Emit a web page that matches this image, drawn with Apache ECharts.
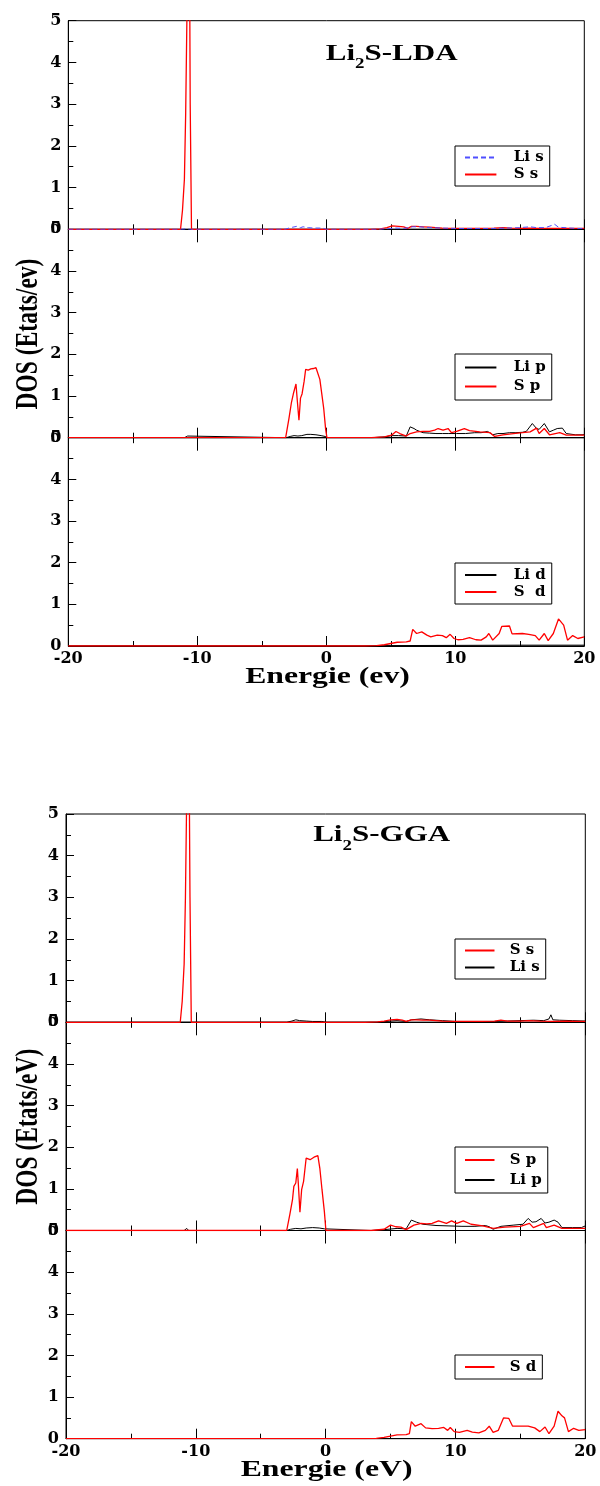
<!DOCTYPE html>
<html><head><meta charset="utf-8">
<script src="https://cdn.jsdelivr.net/npm/echarts/dist/echarts.min.js"></script>
<style>html,body{margin:0;padding:0;background:#fff}#c{width:600px;height:1486px}</style>
</head><body><div id="c"></div>
<script>
// ---------- DATA (energy in eV, DOS in states/eV) ----------
const xTickValues = [-20, -10, 0, 10, 20];
const yTickValues = [0, 1, 2, 3, 4, 5];

const ldaSs = [[-20,0],[-11.3,0],[-11.15,0.45],[-11.0,1.2],[-10.9,2.8],[-10.8,5.2],[-10.7,8.0],[-10.6,6.5],[-10.55,3.0],[-10.45,0],[-4,0],[3.4,0],[4.2,0.01],[4.7,0.04],[5.1,0.08],[5.6,0.07],[6.0,0.06],[6.3,0.02],[6.6,0.07],[7.0,0.07],[7.5,0.06],[8.0,0.05],[8.5,0.04],[9.0,0.03],[10.0,0.02],[11.0,0.02],[12.0,0.02],[13.0,0.03],[13.7,0.04],[14.3,0.03],[15.0,0.02],[15.7,0.03],[16.5,0.02],[17.5,0.02],[18.5,0.02],[19.5,0.02],[20,0.02]];
const ldaLis = [[-20,0],[-11.2,0],[-10.9,0.01],[-10.6,0],[-3.2,0],[-2.9,0.03],[-2.6,0.05],[-2.3,0.07],[-2.0,0.04],[-1.8,0.06],[-1.4,0.04],[-1.0,0.03],[-0.5,0.03],[-0.2,0.02],[0,0],[4,0],[5,0.02],[5.4,0.03],[6,0.02],[6.7,0.06],[7.2,0.06],[8,0.04],[9,0.03],[10,0.02],[11,0.02],[12,0.02],[13,0.02],[14,0.03],[15,0.04],[15.8,0.06],[16.3,0.04],[17,0.04],[17.7,0.12],[18.0,0.05],[18.9,0.03],[19.5,0.02],[20,0.02]];
const ldaSp = [[-20,0],[-3.15,0],[-2.9,0.45],[-2.7,0.85],[-2.55,1.06],[-2.45,1.05],[-2.35,1.29],[-2.25,0.9],[-2.12,0.42],[-2.0,0.95],[-1.88,1.05],[-1.72,1.35],[-1.6,1.64],[-1.4,1.62],[-1.2,1.65],[-1.0,1.66],[-0.8,1.68],[-0.65,1.70],[-0.5,1.4],[-0.35,1.05],[-0.2,0.7],[-0.05,0.2],[0.05,0],[3.5,0],[4.5,0.02],[5.06,0.06],[5.4,0.15],[5.7,0.1],[6.2,0.04],[6.5,0.1],[7.0,0.14],[7.5,0.15],[8.0,0.15],[8.4,0.18],[8.67,0.22],[9.05,0.18],[9.44,0.22],[9.7,0.12],[10.1,0.15],[10.7,0.22],[11.1,0.17],[11.9,0.14],[12.7,0.12],[13.05,0.03],[13.7,0.07],[14.5,0.1],[15.2,0.12],[15.8,0.14],[16.3,0.23],[16.5,0.1],[16.9,0.22],[17.3,0.07],[18.1,0.12],[18.6,0.06],[19.9,0.06],[20,0.06]];
const ldaLip = [[-20,0],[-11,0],[-10.75,0.04],[-10.6,0],[-3.1,0],[-2.8,0.03],[-2.5,0.05],[-2.2,0.04],[-1.9,0.05],[-1.5,0.08],[-1.2,0.08],[-0.8,0.07],[-0.4,0.05],[-0.1,0.03],[0.1,0],[3.5,0],[4.5,0.02],[5.06,0.05],[5.6,0.05],[6.2,0.04],[6.5,0.26],[6.8,0.22],[7.0,0.18],[7.5,0.12],[8.0,0.11],[8.5,0.1],[9.0,0.1],[9.5,0.1],[10.1,0.1],[10.8,0.1],[11.5,0.12],[12.0,0.12],[12.5,0.15],[12.9,0.07],[13.3,0.1],[13.7,0.1],[14.2,0.12],[14.7,0.12],[15.2,0.13],[15.5,0.15],[15.97,0.34],[16.3,0.22],[16.5,0.2],[16.9,0.34],[17.3,0.14],[17.6,0.18],[17.9,0.22],[18.3,0.23],[18.6,0.1],[19.3,0.07],[19.9,0.07],[20,0.08]];
const ldaSd = [[-20,0],[-13,0],[3.0,0],[3.9,0.01],[4.5,0.03],[5.0,0.06],[5.5,0.09],[6.2,0.1],[6.5,0.12],[6.7,0.4],[7.0,0.3],[7.4,0.34],[7.8,0.26],[8.1,0.22],[8.6,0.26],[9.0,0.25],[9.3,0.2],[9.6,0.28],[9.9,0.18],[10.2,0.15],[10.6,0.16],[11.1,0.2],[11.6,0.15],[12.0,0.14],[12.4,0.22],[12.6,0.3],[12.9,0.14],[13.4,0.3],[13.6,0.47],[14.2,0.48],[14.4,0.29],[15.2,0.3],[15.7,0.28],[16.2,0.25],[16.5,0.14],[16.9,0.3],[17.2,0.13],[17.6,0.3],[18.0,0.65],[18.4,0.5],[18.7,0.14],[19.1,0.25],[19.5,0.18],[20,0.22]];
const ldaLid = [[-20,0],[3,0],[5,0.01],[10,0.015],[15,0.02],[20,0.02]];

const ggaSs = [[-20,0],[-11.2,0],[-11.05,0.5],[-10.9,1.4],[-10.8,3],[-10.7,5.5],[-10.6,8],[-10.5,5.5],[-10.45,3],[-10.35,0],[3.0,0],[4,0.01],[4.5,0.03],[5.0,0.06],[5.5,0.07],[5.9,0.05],[6.2,0.02],[6.6,0.06],[7.0,0.06],[7.5,0.05],[8.0,0.05],[8.5,0.04],[9,0.03],[10,0.02],[11,0.02],[12,0.02],[13,0.03],[13.5,0.05],[14,0.03],[15,0.03],[15.6,0.04],[16.5,0.03],[17.5,0.02],[18.5,0.03],[19.5,0.02],[20,0.02]];
const ggaLis = [[-20,0],[-3,0],[-2.6,0.03],[-2.3,0.06],[-2.0,0.04],[-1.5,0.03],[-1.0,0.02],[-0.3,0.02],[0,0],[4,0],[5,0.03],[5.5,0.04],[6.2,0.02],[6.6,0.06],[7.35,0.08],[8,0.06],[9,0.04],[10,0.02],[11,0.02],[12,0.02],[13,0.02],[14,0.03],[15,0.04],[16,0.05],[16.8,0.04],[17.2,0.08],[17.35,0.18],[17.5,0.06],[18,0.05],[19,0.04],[20,0.03]];
const ggaSp = [[-20,0],[-3.0,0],[-2.75,0.4],[-2.55,0.75],[-2.45,1.06],[-2.3,1.14],[-2.18,1.49],[-2.1,1.1],[-1.98,0.44],[-1.85,0.98],[-1.7,1.18],[-1.5,1.74],[-1.35,1.72],[-1.2,1.70],[-0.9,1.76],[-0.6,1.80],[-0.45,1.5],[-0.28,0.98],[-0.1,0.46],[0.02,0],[3.5,0],[4.5,0.03],[5.0,0.13],[5.4,0.09],[5.8,0.08],[6.2,0.02],[6.8,0.13],[7.35,0.17],[7.8,0.16],[8.2,0.17],[8.7,0.23],[9.3,0.17],[9.7,0.23],[10.1,0.17],[10.6,0.23],[11.2,0.15],[12.1,0.11],[12.9,0.05],[13.8,0.08],[15.0,0.1],[15.7,0.17],[16.0,0.07],[16.8,0.17],[17.0,0.07],[17.6,0.13],[18.2,0.05],[19,0.05],[20,0.05]];
const ggaLip = [[-20,0],[-10.9,0],[-10.7,0.05],[-10.55,0],[-3.0,0],[-2.7,0.03],[-2.3,0.05],[-1.9,0.04],[-1.5,0.06],[-1.0,0.07],[-0.5,0.06],[-0.1,0.04],[0.05,0],[3.5,0],[4.5,0.02],[5.5,0.05],[6.2,0.04],[6.6,0.25],[7.0,0.2],[7.5,0.15],[8.5,0.12],[9.5,0.11],[10.5,0.1],[11.5,0.1],[12.3,0.12],[12.6,0.09],[12.9,0.03],[13.5,0.1],[14.5,0.13],[15.2,0.15],[15.6,0.29],[15.9,0.2],[16.2,0.21],[16.6,0.29],[16.9,0.18],[17.2,0.2],[17.6,0.25],[17.9,0.2],[18.2,0.07],[19,0.07],[19.7,0.07],[20,0.11]];
const ggaSd = [[-20,0],[-13,0],[3.0,0],[3.9,0.01],[4.5,0.03],[5.0,0.06],[5.5,0.09],[6.2,0.1],[6.45,0.12],[6.6,0.41],[6.9,0.3],[7.35,0.36],[7.7,0.26],[8.2,0.24],[8.7,0.25],[9.1,0.27],[9.4,0.2],[9.6,0.27],[9.9,0.17],[10.3,0.15],[10.9,0.2],[11.3,0.16],[11.8,0.14],[12.3,0.2],[12.6,0.3],[12.9,0.15],[13.3,0.2],[13.7,0.5],[14.1,0.49],[14.4,0.3],[15.0,0.3],[15.6,0.3],[16.1,0.26],[16.5,0.17],[16.9,0.28],[17.2,0.12],[17.6,0.3],[17.9,0.66],[18.2,0.55],[18.4,0.5],[18.7,0.17],[19.1,0.25],[19.5,0.2],[20,0.22]];

// ---------- LAYOUT / STYLE ----------
const RED = '#ff0000', BLK = '#000000', BLUE = '#4f4fff';
const TICK_FONT = {fontFamily: 'DejaVu Serif', fontWeight: 'bold', fontSize: 16, color: '#000'};
const grids = [
  {left: 68.3, top: 20.7, width: 516, height: 208.6},
  {left: 68.3, top: 229.3, width: 516, height: 208.4},
  {left: 68.3, top: 437.7, width: 516, height: 208.3},
  {left: 66, top: 814, width: 519.3, height: 208.3},
  {left: 66, top: 1022.3, width: 519.3, height: 208.2},
  {left: 66, top: 1230.5, width: 519.3, height: 208.2}
];
const seriesDefs = [
  {id: 'lda-ss', g: 0, label: 'S s', data: ldaSs, color: RED},
  {id: 'lda-lis', g: 0, label: 'Li s', data: ldaLis, color: BLUE, dash: true},
  {id: 'lda-lip', g: 1, label: 'Li p', data: ldaLip, color: BLK},
  {id: 'lda-sp', g: 1, label: 'S p', data: ldaSp, color: RED},
  {id: 'lda-lid', g: 2, label: 'Li d', data: ldaLid, color: BLK},
  {id: 'lda-sd', g: 2, label: 'S  d', data: ldaSd, color: RED},
  {id: 'gga-lis', g: 3, label: 'Li s', data: ggaLis, color: BLK},
  {id: 'gga-ss', g: 3, label: 'S s', data: ggaSs, color: RED},
  {id: 'gga-lip', g: 4, label: 'Li p', data: ggaLip, color: BLK},
  {id: 'gga-sp', g: 4, label: 'S p', data: ggaSp, color: RED},
  {id: 'gga-sd', g: 5, label: 'S d', data: ggaSd, color: RED}
];
const labelOf = {};
seriesDefs.forEach(s => labelOf[s.id] = s.label);
const legendDefs = [
  {items: ['lda-lis', 'lda-ss'], left: 455, top: 146, pad: [4, 6, 4, 9], gap: 2, iw: 31.4, tp: 12.4, tw: 39},
  {items: ['lda-lip', 'lda-sp'], left: 455, top: 354, pad: [6, 6, 6, 9], gap: 4, iw: 31.4, tp: 12.4, tw: 41},
  {items: ['lda-lid', 'lda-sd'], left: 455, top: 563, pad: [4.5, 6, 4.5, 9], gap: 2, iw: 31.4, tp: 12.4, tw: 41},
  {items: ['gga-ss', 'gga-lis'], left: 455, top: 939, pad: [4, 6, 4, 9], gap: 2, iw: 29.5, tp: 10.3, tw: 37},
  {items: ['gga-sp', 'gga-lip'], left: 455, top: 1147, pad: [5.5, 6, 5.5, 9], gap: 5, iw: 29.5, tp: 10.3, tw: 39},
  {items: ['gga-sd'], left: 455, top: 1355, pad: [4.5, 6, 4.5, 9], gap: 2, iw: 29.5, tp: 10.3, tw: 33}
];

const xAxes = [], yAxes = [], series = [];
const bottomIdx = [];
grids.forEach((g, i) => {
  const lastOfFig = (i === 2 || i === 5);
  bottomIdx[i] = xAxes.length;
  xAxes.push({
    type: 'value', gridIndex: i, position: 'bottom', min: xTickValues[0], max: xTickValues[xTickValues.length - 1], interval: 10,
    axisLine: {show: true, onZero: false, lineStyle: {color: '#000', width: 1}},
    axisTick: {show: true, inside: true, length: 10, lineStyle: {color: '#000'}},
    minorTick: {show: true, splitNumber: 2, length: 5, lineStyle: {color: '#000'}},
    splitLine: {show: false}, minorSplitLine: {show: false},
    axisLabel: Object.assign({show: lastOfFig, margin: 5}, TICK_FONT)
  });
  if (i !== 0 && i !== 3) {
    xAxes.push({
      type: 'value', gridIndex: i, position: 'top', min: xTickValues[0], max: xTickValues[xTickValues.length - 1], interval: 10,
      axisLine: {show: true, onZero: false, lineStyle: {color: '#000', width: 1}},
      axisTick: {show: true, inside: true, length: 13, lineStyle: {color: '#000'}},
      minorTick: {show: true, splitNumber: 2, length: 5.5, lineStyle: {color: '#000'}},
      splitLine: {show: false}, minorSplitLine: {show: false},
      axisLabel: {show: false}
    });
  }
  yAxes.push({
    type: 'value', gridIndex: i, min: yTickValues[0], max: yTickValues[yTickValues.length - 1], interval: 1,
    axisLine: {show: true, onZero: false, lineStyle: {color: '#000', width: 1}},
    axisTick: {show: true, inside: true, length: 8, lineStyle: {color: '#000'}},
    minorTick: {show: true, splitNumber: 2, length: 5, lineStyle: {color: '#000'}},
    splitLine: {show: false}, minorSplitLine: {show: false},
    axisLabel: Object.assign({margin: 7}, TICK_FONT)
  });
});
seriesDefs.forEach(s => {
  series.push({
    type: 'line', name: s.id, xAxisIndex: bottomIdx[s.g], yAxisIndex: s.g,
    data: s.data, symbol: 'none', showSymbol: false, clip: true, animation: false,
    lineStyle: {color: s.color, width: s.color === RED ? 1.3 : 1, type: s.dash ? [5, 3] : 'solid'},
    itemStyle: {color: s.color}
  });
});
const legends = legendDefs.map(l => ({
  data: l.items, orient: 'vertical', left: l.left, top: l.top, padding: l.pad, itemGap: l.gap,
  itemWidth: l.iw, itemHeight: 14, borderColor: '#000', borderWidth: 1, backgroundColor: '#fff',
  selectedMode: false,
  itemStyle: {opacity: 0, color: 'transparent', borderColor: 'transparent', borderWidth: 0},
  formatter: n => '{t|' + labelOf[n] + '}',
  textStyle: {rich: {t: {fontFamily: 'DejaVu Serif', fontWeight: 'bold', fontSize: 15, color: '#000', padding: [0, 0, 0, l.tp], width: l.tw + l.tp}}}
}));

const serif = 'Liberation Serif';
function titleText(x, y, tail) {
  return {type: 'text', x: x, y: y, scaleX: 1.35, z: 100,
    style: {text: '{a|Li}{b|2}{a|' + tail + '}', align: 'center', verticalAlign: 'middle',
      rich: {a: {fontFamily: serif, fontWeight: 'bold', fontSize: 23, lineHeight: 35, fill: '#000'},
             b: {fontFamily: serif, fontWeight: 'bold', fontSize: 14, lineHeight: 14, verticalAlign: 'bottom', fill: '#000'}}}};
}
function plainText(x, y, txt, rot) {
  const el = {type: 'text', x: x, y: y, z: 100,
    style: {text: txt, align: 'center', verticalAlign: 'middle', fontFamily: serif, fontWeight: 'bold', fontSize: 23.5, fill: '#000'}};
  if (rot) { el.rotation = Math.PI / 2; el.scaleY = 1.3; } else { el.scaleX = 1.35; }
  return el;
}

const chart = echarts.init(document.getElementById('c'), null, {renderer: 'canvas'});
chart.setOption({
  animation: false,
  backgroundColor: '#fff',
  grid: grids.map(g => Object.assign({show: true, borderColor: '#000', borderWidth: 1, backgroundColor: 'transparent', containLabel: false, outerBoundsMode: 'none'}, g)),
  xAxis: xAxes,
  yAxis: yAxes,
  legend: legends,
  series: series,
  graphic: [
    titleText(391.7, 54, 'S-LDA'),
    titleText(381.7, 835.5, 'S-GGA'),
    plainText(28.7, 334, 'DOS (Etats/ev)', true),
    plainText(28.7, 1126.7, 'DOS (Etats/eV)', true),
    plainText(327.5, 677, 'Energie (ev)', false),
    plainText(326.6, 1470, 'Energie (eV)', false)
  ]
});
</script></body></html>
